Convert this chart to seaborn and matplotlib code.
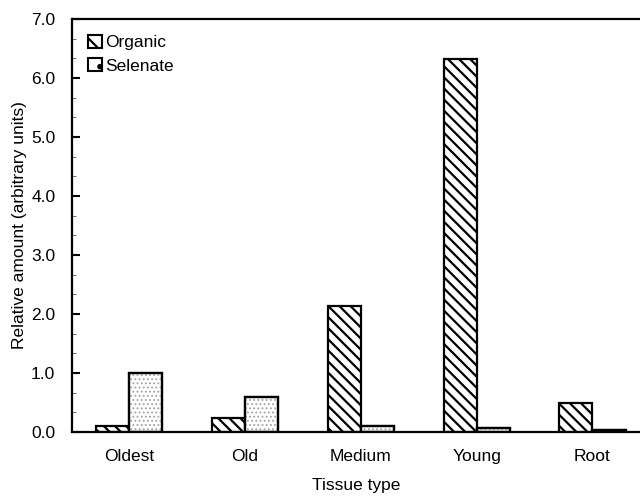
import matplotlib
matplotlib.use('Agg')
import matplotlib.pyplot as plt
import matplotlib.patches as mpatches
from matplotlib.ticker import MultipleLocator, AutoMinorLocator
import pandas as pd
import seaborn as sns

# data
tissues = ['Oldest', 'Old', 'Medium', 'Young', 'Root']
organic = [0.11, 0.23, 2.14, 6.32, 0.50]
selenate = [1.00, 0.60, 0.11, 0.06, 0.04]
forms = ['Organic', 'Selenate']

df = pd.DataFrame({
    'tissue': tissues * 2,
    'amount': organic + selenate,
    'form': [forms[0]] * len(tissues) + [forms[1]] * len(tissues),
})

sns.set_style('white')
plt.rcParams['font.family'] = ['Liberation Sans', 'DejaVu Sans']
plt.rcParams['hatch.linewidth'] = 1.6
plt.rcParams['text.color'] = 'black'
plt.rcParams['axes.labelcolor'] = 'black'
plt.rcParams['xtick.color'] = 'black'
plt.rcParams['ytick.color'] = 'black'

fig = plt.figure(figsize=(6.4, 4.96), dpi=100)
ax = fig.add_axes([0.1125, 0.129, 0.8875, 0.8327])

sns.barplot(data=df, x='tissue', y='amount', hue='form', order=tissues,
            hue_order=forms, palette=['white', 'white'], edgecolor='black',
            linewidth=1.6, width=0.57, gap=0, ax=ax, legend=False)

# organic: dense diagonal hatch
for bar in ax.containers[0]:
    bar.set_hatch('\\\\\\')

# selenate: fine gray dot fill laid over the plain bar
with plt.rc_context({'hatch.linewidth': 0.8}):
    for bar in ax.containers[1]:
        ax.add_patch(mpatches.Rectangle(bar.get_xy(), bar.get_width(), bar.get_height(),
                                        facecolor='none', edgecolor='#a0a0a0',
                                        linewidth=0, hatch='....',
                                        zorder=bar.get_zorder() + 0.05))
        ax.add_patch(mpatches.Rectangle(bar.get_xy(), bar.get_width(), bar.get_height(),
                                        fill=False, edgecolor='black', linewidth=1.6,
                                        zorder=bar.get_zorder() + 0.1))

ax.set_ylim(0, 7)
ax.set_xlim(-0.49, 4.41)
ax.yaxis.set_major_locator(MultipleLocator(1))
ax.yaxis.set_minor_locator(AutoMinorLocator(3))
ax.yaxis.set_major_formatter(matplotlib.ticker.FormatStrFormatter('%.1f'))
ax.tick_params(axis='y', which='major', direction='in', length=6, width=1.5,
               labelsize=12.5, pad=12, left=True, labelcolor='black')
ax.tick_params(axis='y', which='minor', direction='in', length=3, width=0.8,
               color='#777777', left=True)
ax.tick_params(axis='x', length=0, labelsize=12.5, pad=12, labelcolor='black')

for side in ['left', 'top', 'bottom']:
    ax.spines[side].set_visible(True)
    ax.spines[side].set_color('black')
    ax.spines[side].set_linewidth(1.6)
ax.spines['right'].set_visible(False)

ax.set_xlabel('Tissue type', fontsize=12.5, labelpad=10, color='black')
ax.set_ylabel('Relative amount (arbitrary units)', fontsize=12.5, labelpad=3,
              color='black')

handles = [
    mpatches.Patch(facecolor='white', edgecolor='black', hatch='\\\\', linewidth=1.5),
    mpatches.Patch(facecolor='white', edgecolor='black', hatch='.', linewidth=1.5),
]
leg = ax.legend(handles, forms, loc='upper left', frameon=False, fontsize=12.5,
                handlelength=0.8, handleheight=0.8, handletextpad=0.2,
                labelspacing=0.45, borderaxespad=0.5, bbox_to_anchor=(0.0, 1.0))
for t in leg.get_texts():
    t.set_color('black')

fig.savefig('out.png', dpi=100)
